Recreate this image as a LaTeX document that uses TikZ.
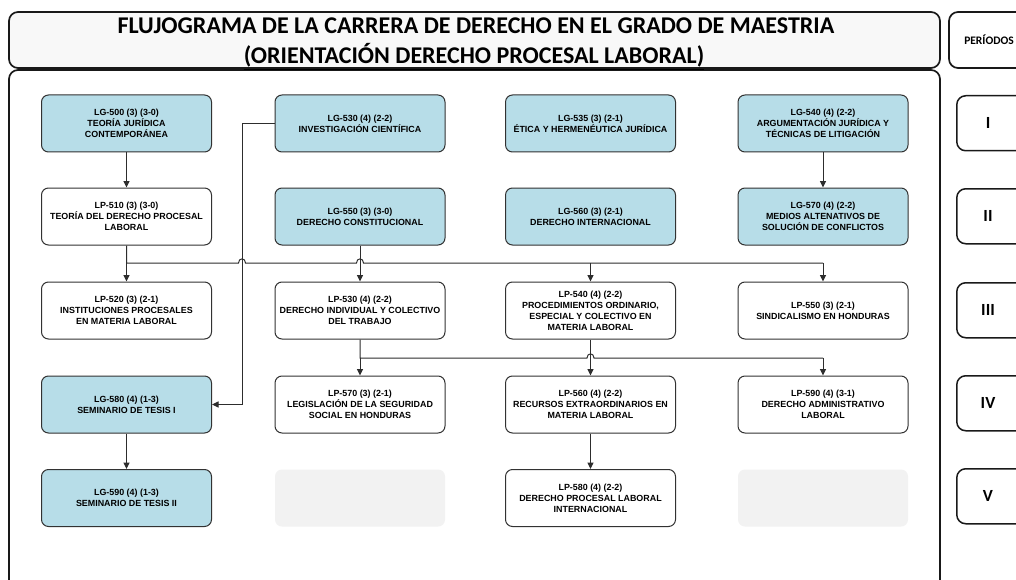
\documentclass[tikz,border=0pt]{standalone}
\usepackage{fontspec}
\setmainfont{Carlito}
\newfontfamily\arialf{Liberation Sans}
\usetikzlibrary{arrows.meta}
\definecolor{cblue}{RGB}{183,221,232}
\definecolor{cgray}{RGB}{242,242,242}
\definecolor{tgray}{RGB}{248,248,248}
\definecolor{lcol}{RGB}{45,45,45}
\definecolor{bcol}{RGB}{50,50,50}
\tikzset{
  course/.style={rounded corners=7pt, minimum width=170pt, minimum height=57pt,
    draw=bcol, line width=1pt, align=center, inner sep=0pt, text=black,
    font=\arialf\bfseries\fontsize{8.9}{11}\selectfont},
  blue/.style={course, fill=cblue},
  white/.style={course, fill=white},
  empty/.style={rounded corners=7pt, minimum width=170pt, minimum height=57pt, fill=cgray, draw=none},
  frame/.style={rounded corners=9pt, draw=black!90, line width=1.7pt},
  period/.style={rounded corners=9pt, draw=black!90, line width=1.5pt, fill=white,
    minimum width=80pt, minimum height=55pt, anchor=north west, inner sep=0pt},
  plabel/.style={font=\bfseries\fontsize{17}{17}\selectfont},
  conn/.style={draw=lcol, line width=1pt},
  arr/.style={conn, -{Triangle[length=6.5pt,width=6pt]}}
}
\begin{document}
\begin{tikzpicture}[x=1pt,y=-1pt]
\useasboundingbox (0,0) rectangle (1016,580);
% frames
\draw[frame, fill=white] (9,70) rectangle (940,620);
\draw[frame, fill=tgray] (9,12) rectangle (940,68);
\node[font=\bfseries\fontsize{24}{24}\selectfont, anchor=base] (t1) at (476,34) {FLUJOGRAMA DE LA CARRERA DE DERECHO EN EL GRADO DE MAESTRIA};
\node[font=\bfseries\fontsize{24}{24}\selectfont, anchor=base] (t2) at (474,64) {\underline{(ORIENTACIÓN DERECHO PROCESAL LABORAL)}};
% periods
\draw[frame, fill=white] (949,12) rectangle (1040,68);
\node[font=\bfseries\fontsize{11.5}{11.5}\selectfont] (ph) at (989,40) {PERÍODOS};
\node[period] (p1) at (956,95) {};
\node[period] (p2) at (956,188) {};
\node[period] (p3) at (956,282) {};
\node[period] (p4) at (956,375) {};
\node[period] (p5) at (956,468) {};
\node[plabel] at (988,122.5) {I};
\node[plabel] at (988,215.5) {II};
\node[plabel] at (988,309.5) {III};
\node[plabel] at (988,402.5) {IV};
\node[plabel] at (988,495.5) {V};
% row 1
\node[blue] (lg500) at (126.5,123.5) {LG-500 (3) (3-0)\\TEORÍA JURÍDICA\\CONTEMPORÁNEA};
\node[blue] (lg530) at (360,123.5) {LG-530 (4) (2-2)\\INVESTIGACIÓN CIENTÍFICA};
\node[blue] (lg535) at (590.5,123.5) {LG-535 (3) (2-1)\\ÉTICA Y HERMENÉUTICA JURÍDICA};
\node[blue] (lg540) at (823,123.5) {LG-540 (4) (2-2)\\ARGUMENTACIÓN JURÍDICA Y\\TÉCNICAS DE LITIGACIÓN};
% row 2
\node[white] (lp510) at (126.5,216.5) {LP-510 (3) (3-0)\\TEORÍA DEL DERECHO PROCESAL\\LABORAL};
\node[blue] (lg550) at (360,216.5) {LG-550 (3) (3-0)\\DERECHO CONSTITUCIONAL};
\node[blue] (lg560) at (590.5,216.5) {LG-560 (3) (2-1)\\DERECHO INTERNACIONAL};
\node[blue] (lg570) at (823,216.5) {LG-570 (4) (2-2)\\MEDIOS ALTENATIVOS DE\\SOLUCIÓN DE CONFLICTOS};
% row 3
\node[white] (lp520) at (126.5,310.5) {LP-520 (3) (2-1)\\INSTITUCIONES PROCESALES\\EN MATERIA LABORAL};
\node[white] (lp530) at (360,310.5) {LP-530 (4) (2-2)\\DERECHO INDIVIDUAL Y COLECTIVO\\DEL TRABAJO};
\node[white] (lp540) at (590.5,310.5) {LP-540 (4) (2-2)\\PROCEDIMIENTOS ORDINARIO,\\ESPECIAL Y COLECTIVO EN\\MATERIA LABORAL};
\node[white] (lp550) at (823,310.5) {LP-550 (3) (2-1)\\SINDICALISMO EN HONDURAS};
% row 4
\node[blue] (lg580) at (126.5,404.5) {LG-580 (4) (1-3)\\SEMINARIO DE TESIS I};
\node[white] (lp570) at (360,404.5) {LP-570 (3) (2-1)\\LEGISLACIÓN DE LA SEGURIDAD\\SOCIAL EN HONDURAS};
\node[white] (lp560) at (590.5,404.5) {LP-560 (4) (2-2)\\RECURSOS EXTRAORDINARIOS EN\\MATERIA LABORAL};
\node[white] (lp590) at (823,404.5) {LP-590 (4) (3-1)\\DERECHO ADMINISTRATIVO\\LABORAL};
% row 5
\node[blue] (lg590) at (126.5,498) {LG-590 (4) (1-3)\\SEMINARIO DE TESIS II};
\node[empty] (e1) at (360,498) {};
\node[white] (lp580) at (590.5,498) {LP-580 (4) (2-2)\\DERECHO PROCESAL LABORAL\\INTERNACIONAL};
\node[empty] (e2) at (823,498) {};
% junction coordinates
\coordinate (j1) at (126.5,263);
\coordinate (j3) at (590.5,263);
\coordinate (j4) at (823,263);
\coordinate (m1) at (360,358);
\coordinate (m3) at (823,358);
\coordinate (k1) at (242,123.5);
\coordinate (k2) at (242,404.5);
% simple arrows
\draw[arr] (lg500) -- (lp510);
\draw[arr] (lg540) -- (lg570);
\draw[arr] (lg550) -- (lp530);
\draw[arr] (lp540) -- (lp560);
\draw[arr] (lg580) -- (lg590);
\draw[arr] (lp560) -- (lp580);
% LG-530 to LG-580
\draw[arr] (lg530.west) -- (k1) -- (k2) -- (lg580.east);
% first distribution line with hops
\draw[conn] (lp510.south) -- (j1) -- (238.5,263) .. controls (238.5,257.5) and (245.5,257.5) .. (245.5,263)
  -- (356.5,263) .. controls (356.5,257.5) and (363.5,257.5) .. (363.5,263) -- (j4);
\draw[arr] (j1) -- (lp520.north);
\draw[arr] (j3) -- (lp540.north);
\draw[arr] (j4) -- (lp550.north);
% second distribution line with hop
\draw[conn] (lp530.south) -- (m1) -- (587,358) .. controls (587,352.5) and (594,352.5) .. (594,358) -- (m3);
\draw[arr] (m1) -- (lp570.north);
\draw[arr] (m3) -- (lp590.north);
\end{tikzpicture}
\end{document}
